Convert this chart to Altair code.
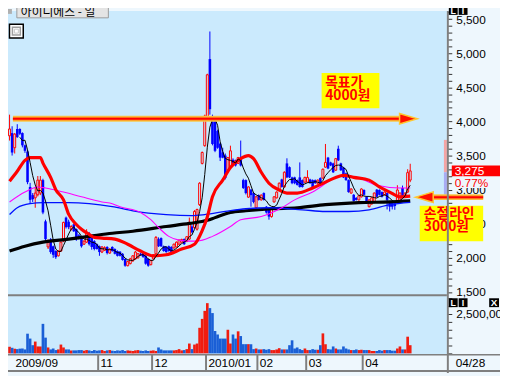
import altair as alt
import pandas as pd

# ---------------- data ----------------
opens = [3790, 3830, 3615, 3890, 3890, 3830, 3650, 3560, 3040, 2920,
         2880, 2925, 2950, 3140, 2535, 2160, 2270, 2170, 2100, 2030,
         2100, 2245, 2590, 2530, 2420, 2490, 2420, 2330, 2300, 2200,
         2230, 2350, 2320, 2245, 2200, 2170, 2085, 2110, 2160, 2070,
         2160, 2130, 2100, 2090, 2060, 1985, 1885, 1915, 1955, 1985,
         2000, 2060, 2085, 2030, 1985, 1900, 1985, 2060, 2275, 2290,
         2170, 2160, 2170, 2160, 2145, 2160, 2200, 2230, 2275, 2240,
         2275, 2460, 2445, 2420, 2780, 3385, 3645, 4050, 4915, 4050,
         4005, 3860, 3675, 3545, 3500, 3285, 3330, 3440, 3430, 3385,
         3470, 3140, 3140, 2890, 3000, 2950, 2735, 2920, 2850, 2950,
         2750, 2705, 2605, 2820, 2880, 2995, 3150, 3040, 3385, 3330,
         3180, 3180, 3140, 3180, 3140, 3110, 3110, 3150, 3140, 3140,
         3095, 3170, 3170, 3330, 3470, 3400, 3385, 3285, 3600, 3385,
         3325, 3240, 3140, 2950, 2925, 2880, 2850, 2895, 2995, 2895,
         2750, 2790, 2810, 3000, 2995, 2965, 2925, 2950, 2820, 2805,
         2800, 2810, 2840, 3025, 2900, 2965, 3140]
highs = [4100, 3930, 3830, 3960, 3900, 3840, 3660, 3580, 3100, 2950,
         3040, 3200, 3200, 3160, 2560, 2270, 2290, 2180, 2110, 2110,
         2240, 2530, 2605, 2560, 2480, 2500, 2430, 2350, 2310, 2260,
         2420, 2380, 2330, 2260, 2210, 2180, 2170, 2170, 2170, 2140,
         2170, 2140, 2110, 2100, 2070, 1990, 1960, 2000, 2040, 2100,
         2070, 2075, 2100, 2040, 1990, 1970, 2055, 2320, 2300, 2300,
         2180, 2170, 2180, 2170, 2210, 2240, 2270, 2280, 2285, 2320,
         2590, 2480, 2700, 2720, 3110, 3560, 4100, 4700, 5320, 4100,
         4030, 3880, 3690, 3615, 3530, 3480, 3645, 3460, 3440, 3480,
         3720, 3160, 3150, 3050, 3010, 2960, 2910, 2930, 2930, 2960,
         2760, 2715, 2745, 2905, 2975, 3105, 3160, 3270, 3460, 3340,
         3190, 3190, 3150, 3400, 3150, 3190, 3285, 3160, 3150, 3150,
         3150, 3180, 3310, 3670, 3480, 3410, 3395, 3465, 3645, 3395,
         3335, 3250, 3150, 3020, 2935, 2890, 2920, 3020, 3005, 2905,
         2860, 2890, 2960, 3010, 3005, 2975, 2975, 2960, 2830, 2815,
         2810, 3065, 2960, 3060, 2960, 3300, 3380]
lows = [3720, 3500, 3530, 3760, 3800, 3620, 3540, 3080, 2800, 2820,
        2735, 2900, 2920, 2640, 2250, 2130, 2060, 2000, 1985, 2020,
        2090, 2230, 2430, 2420, 2400, 2380, 2250, 2270, 2150, 2190,
        2220, 2180, 2120, 2110, 2120, 2030, 2070, 2100, 2050, 2060,
        2090, 2050, 2020, 2020, 1960, 1870, 1875, 1905, 1945, 1975,
        1990, 2030, 2000, 1900, 1870, 1890, 1975, 2050, 2160, 2160,
        2090, 2075, 2090, 2075, 2135, 2150, 2190, 2220, 2190, 2230,
        2260, 2360, 2430, 2400, 2760, 3370, 3630, 4040, 4100, 3650,
        3550, 3600, 3420, 3460, 3150, 3270, 3320, 3370, 3340, 3375,
        3340, 3010, 2930, 2880, 2750, 2800, 2720, 2840, 2840, 2840,
        2650, 2560, 2590, 2810, 2870, 2985, 3030, 3030, 3170, 3170,
        3080, 3080, 3060, 3030, 3030, 3100, 3100, 3085, 3030, 3085,
        3085, 3085, 3160, 3320, 3300, 3345, 3245, 3275, 3420, 3275,
        3170, 3130, 2955, 2940, 2825, 2840, 2840, 2885, 2915, 2800,
        2740, 2780, 2800, 2885, 2915, 2885, 2915, 2710, 2680, 2710,
        2705, 2800, 2830, 2885, 2890, 2950, 3110]
closes = [3890, 3545, 3815, 3770, 3820, 3650, 3570, 3110, 2850, 2860,
          2950, 3140, 3140, 2665, 2275, 2230, 2085, 2045, 2010, 2100,
          2230, 2520, 2450, 2450, 2460, 2390, 2275, 2290, 2170, 2245,
          2375, 2200, 2160, 2130, 2130, 2085, 2160, 2150, 2070, 2130,
          2100, 2060, 2030, 2030, 1970, 1885, 1945, 1985, 2030, 2085,
          2060, 2040, 2015, 1915, 1885, 1960, 2045, 2300, 2170, 2170,
          2100, 2085, 2100, 2085, 2200, 2230, 2260, 2270, 2200, 2310,
          2520, 2375, 2680, 2710, 3095, 3545, 4080, 4685, 4180, 3670,
          3570, 3615, 3470, 3470, 3170, 3470, 3570, 3385, 3355, 3470,
          3355, 3025, 2950, 3040, 2920, 2820, 2895, 2850, 2920, 2850,
          2665, 2605, 2735, 2895, 2965, 3095, 3040, 3255, 3180, 3180,
          3095, 3095, 3070, 3040, 3040, 3180, 3180, 3095, 3040, 3095,
          3140, 3095, 3300, 3400, 3310, 3355, 3255, 3455, 3430, 3285,
          3180, 3140, 2965, 3010, 2835, 2850, 2910, 3010, 2925, 2810,
          2850, 2880, 2950, 2895, 2925, 2895, 2965, 2850, 2750, 2750,
          2760, 2995, 2950, 2895, 2950, 3250, 3275]
# volume in thousands of shares
volumes_k = [420, 355, 300, 270, 300, 310, 250, 1250, 940, 520,
             750, 440, 440, 1875, 1000, 375, 250, 310, 210, 250,
             560, 375, 250, 250, 190, 190, 190, 210, 210,
             170, 210, 190, 150, 210, 170, 190, 210, 150, 190,
             210, 170, 150, 190, 170, 210, 150, 190, 170, 150,
             190, 210, 170, 150, 190, 150, 170, 190,
             150, 375, 250, 190, 190, 190, 190, 190, 210, 270, 190, 210,
             270, 625, 270, 560, 625, 1625, 2190, 2700, 3190, 2875,
             2560, 1420, 1200, 940, 940, 940, 1500, 625, 1200, 940,
             1400, 1100, 585, 585, 585,
             580, 270, 310, 250, 250, 270, 230, 270, 210, 210,
             250, 330, 250, 250, 250, 520, 830, 310, 375, 270,
             210, 310, 210, 210, 270, 230, 230, 520, 1270, 580,
             270, 250, 440, 310, 250, 250, 440, 310, 250, 210,
             210, 250, 210, 230, 210, 210, 210, 150, 150, 150,
             210, 170, 210, 210, 210, 170, 170, 310, 440, 250,
             250, 1060, 520]

ma20_i = [0, 3, 6, 8, 12, 13, 16, 18, 21, 23, 26, 28, 31, 33, 36, 41, 46, 51, 56, 61,
          67, 72, 75, 77, 79, 83, 86, 90, 93, 95, 98, 101, 105, 108, 112, 118, 123, 127,
          130, 134, 140, 144, 148, 152, 156]
ma20_v = [3125, 3270, 3430, 3470, 3470, 3390, 3180, 3000, 2850, 2640, 2490, 2420, 2345,
          2300, 2290, 2275, 2200, 2100, 2030, 2045, 2130, 2200, 2400, 2600, 2895, 3140,
          3325, 3455, 3500, 3455, 3255, 3095, 2995, 2950, 2950, 3025, 3110, 3180, 3210,
          3180, 3140, 3040, 2965, 2895, 2905]
ma60_i = [0, 6, 11, 14, 21, 28, 36, 40, 43, 51, 55, 58, 62, 66, 70, 73, 79, 86, 90, 98,
          106, 111, 118, 127, 130, 136, 143, 152, 156]
ma60_v = [2820, 2965, 3040, 3025, 2965, 2895, 2820, 2795, 2750, 2665, 2560, 2445, 2315,
          2260, 2245, 2245, 2315, 2460, 2560, 2605, 2735, 2850, 2965, 3180, 3210, 3170,
          3065, 3025, 3025]
ma120_i = [0, 3, 8, 13, 23, 31, 40, 48, 61, 71, 76, 84, 92, 101, 114, 123, 132, 140, 148, 156]
ma120_v = [2635, 2735, 2795, 2810, 2810, 2795, 2750, 2690, 2635, 2620, 2635, 2680, 2720,
           2735, 2705, 2680, 2680, 2705, 2780, 2815]
ma240_i = [0, 6, 13, 23, 31, 40, 48, 61, 70, 77, 80, 86, 92, 102, 112, 123, 136, 148, 156]
ma240_v = [2100, 2170, 2230, 2275, 2315, 2360, 2390, 2460, 2505, 2550, 2590, 2665, 2690,
           2720, 2735, 2780, 2810, 2820, 2835]

month_pos = [1.311, 34.5, 55.5, 76.5, 96.5, 115.5, 137.5]
month_lab = ["2009/09", "11", "12", "2010/01", "02", "03", "04"]
price_ticks = list(range(1500, 5700, 100))
vol_ticks = [0, 500, 1000, 1500, 2000, 2500, 3000, 3500]

target_price = 4040
target_from, target_to, target_head = 1.311, 153.2, 155.3
stop_price = 2890
stop_from, stop_to, stop_head = 163.6, 184.4, 161.5
box_x0 = [121.5, 159.7]
box_x1 = [144.0, 184.4]
box_p0 = [4712, 2764]
box_p1 = [4193, 2245]
note_text = ["목표가", "4000원", "손절라인", "3000원"]
note_i = [122.9, 122.9, 161.3, 161.3]
note_p = [4568, 4380, 2649, 2454]
last_label = "3,275"
last_price = 3275
pct_label = "0.77%"
pct_price = 3103
range_hi = [3730, 3255]
range_lo = [3255, 2860]
range_kind = ["up", "down"]

# ---------------- styling ----------------
PLOT_BG = "#cbeafd"
AXIS_BG = "#eef7fd"
RED = "#ff0000"
BLUE = "#0000ff"
VRED = "#f01c10"
VBLUE = "#1a5fd6"
GRAY = "#7f7f7f"
NUM_FONT = "Liberation Sans"
KR_FONT = "Noto Sans CJK KR"
HEAD_R = "M -1 -0.6 L 1 0 L -1 0.6 Z"
HEAD_L = "M 1 -0.6 L -1 0 L 1 0.6 Z"

candles = pd.DataFrame({"i": list(range(len(closes))), "open": opens, "high": highs,
                        "low": lows, "close": closes, "vol": volumes_k})

x_scale = alt.Scale(domain=[1.311, 168.352], nice=False, zero=False)
p_scale = alt.Scale(domain=[1465, 5621], range=[288, 0], nice=False, zero=False)
v_scale = alt.Scale(domain=[0, 3625], range=[348, 290], nice=False, zero=False)

label_expr = ("[" + ",".join("'%s'" % m for m in month_lab) + "][indexof(["
              + ",".join(str(v) for v in month_pos) + "], datum.value)]")
x_axis = alt.Axis(values=month_pos, labelExpr=label_expr, orient="bottom", ticks=False,
                  domain=False, grid=False, labelAlign="left", labelBaseline="middle",
                  labelOffset=2, labelPadding=8, labelFont=NUM_FONT, labelFontSize=12,
                  labelColor="#000000", labelOverlap=False, labelBound=False,
                  labelFlush=False, title=None)
p_axis = alt.Axis(orient="right", values=price_ticks,
                  labelExpr="datum.value % 500 == 0 ? format(datum.value, ',') : ''",
                  tickSize=5, tickColor="#333333", tickWidth=1, domain=False, grid=False,
                  labelAlign="left", labelBaseline="middle", labelPadding=4,
                  labelFont=NUM_FONT, labelFontSize=12, labelColor="#000000",
                  labelOverlap=False, labelFlush=False, labelBound=False, title=None)
v_axis = alt.Axis(orient="right", values=vol_ticks,
                  labelExpr="datum.value == 2500 ? '2,500,000' : ''",
                  tickSize=5, tickColor="#333333", tickWidth=1, domain=False, grid=False,
                  labelAlign="left", labelBaseline="middle", labelPadding=4,
                  labelFont=NUM_FONT, labelFontSize=12, labelColor="#000000",
                  labelOverlap=False, labelFlush=False, labelBound=False, title=None)


def X(field):
    return alt.X(field, type="quantitative", scale=x_scale, axis=x_axis)


def PY(field):
    return alt.Y(field, type="quantitative", scale=p_scale, axis=p_axis)


def VY(field):
    return alt.Y(field, type="quantitative", scale=v_scale, axis=v_axis)


one = pd.DataFrame({"k": [0]})
base = alt.Chart(candles).transform_calculate(up="datum.close >= datum.open", v0="0")

# ---------------- price panel ----------------
wick_up = base.transform_filter("datum.up").mark_rule(color=RED, strokeWidth=1).encode(
    x=X("i"), y=PY("low"), y2="high:Q")
wick_dn = base.transform_filter("!datum.up").mark_rule(color=BLUE, strokeWidth=1).encode(
    x=X("i"), y=PY("low"), y2="high:Q")
body_dn = base.transform_filter("!datum.up").mark_bar(size=2.6, color=BLUE).encode(
    x=X("i"), y=PY("open"), y2="close:Q")
body_up = base.transform_filter("datum.up").mark_bar(
    size=2.0, fill=PLOT_BG, stroke=RED, strokeWidth=1).encode(
    x=X("i"), y=PY("open"), y2="close:Q")


def ma_line(idx, vals, color, width):
    return alt.Chart(pd.DataFrame({"i": idx, "v": vals})).mark_line(
        color=color, strokeWidth=width, interpolate="monotone").encode(x=X("i"), y=PY("v"))


ma240 = ma_line(ma240_i, ma240_v, "#000000", 3.2)
ma120 = ma_line(ma120_i, ma120_v, "#0010ff", 1.3)
ma60 = ma_line(ma60_i, ma60_v, "#ff00ff", 1.1)
ma20 = ma_line(ma20_i, ma20_v, "#ff0000", 3.2)
ma5 = alt.Chart(candles).transform_window(
    ma5="mean(close)", frame=[-4, 0], sort=[alt.SortField("i", order="ascending")]
).transform_filter("datum.i >= 4").mark_line(color="#000000", strokeWidth=1).encode(
    x=X("i"), y=PY("ma5"))

rng = alt.Chart(pd.DataFrame({"p0": range_hi, "p1": range_lo, "k": range_kind})).mark_rule(
    strokeWidth=3).encode(
    x=alt.value(444.5), y=PY("p0"), y2="p1:Q",
    color=alt.Color("k:N", scale=alt.Scale(domain=["up", "down"], range=["#f4a4a4", "#a8acf4"]),
                    legend=None))

arrows = pd.DataFrame({"x0": [target_from, stop_from], "x1": [target_to, stop_to],
                       "p": [target_price, stop_price]})
heads = pd.DataFrame({"x": [target_head, stop_head], "p": [target_price, stop_price],
                      "s": ["right", "left"]})
arr_outer = alt.Chart(arrows).mark_rule(color="#f7c94a", strokeWidth=6).encode(
    x=X("x0"), x2="x1:Q", y=PY("p"))
arr_mid = alt.Chart(arrows).mark_rule(color="#ff9622", strokeWidth=4).encode(
    x=X("x0"), x2="x1:Q", y=PY("p"))
arr_core = alt.Chart(arrows).mark_rule(color="#ff0000", strokeWidth=2).encode(
    x=X("x0"), x2="x1:Q", y=PY("p"))
arr_head = alt.Chart(heads).mark_point(filled=True, size=324, fill="#ff1000",
                                       stroke="#ffc830", strokeWidth=1.5, opacity=1).encode(
    x=X("x"), y=PY("p"),
    shape=alt.Shape("s:N", scale=alt.Scale(domain=["right", "left"], range=[HEAD_R, HEAD_L]),
                    legend=None))

boxes = alt.Chart(pd.DataFrame({"x0": box_x0, "x1": box_x1, "p0": box_p0, "p1": box_p1})
                  ).mark_rect(color="#ffff00").encode(x=X("x0"), x2="x1:Q", y=PY("p0"), y2="p1:Q")
notes = alt.Chart(pd.DataFrame({"t": note_text, "i": note_i, "p": note_p})).mark_text(
    align="left", baseline="middle", font=KR_FONT, fontSize=14, fontWeight="bold",
    color="#ff0000").encode(x=X("i"), y=PY("p"), text="t:N")

last_df = pd.DataFrame({"p": [last_price], "t": [last_label]})
pct_df = pd.DataFrame({"p": [pct_price], "t": [pct_label]})
last_box = alt.Chart(last_df).mark_rule(color="#ff0000", strokeWidth=11).encode(
    x=alt.value(451), x2=alt.value(500), y=PY("p"))
last_txt = alt.Chart(last_df).mark_text(align="left", baseline="middle", font=NUM_FONT,
                                        fontSize=12, color="#ffffff").encode(
    x=alt.value(454), y=PY("p"), text="t:N")
pct_box = alt.Chart(pct_df).mark_rule(color=AXIS_BG, strokeWidth=11).encode(
    x=alt.value(451), x2=alt.value(500), y=PY("p"))
pct_txt = alt.Chart(pct_df).mark_text(align="left", baseline="middle", font=NUM_FONT,
                                      fontSize=12, color="#ff0000").encode(
    x=alt.value(454), y=PY("p"), text="t:N")

price = alt.layer(wick_up, wick_dn, body_dn, body_up, ma240, ma120, ma60, ma20, ma5, rng,
                  last_box, last_txt, pct_box, pct_txt,
                  boxes, notes, arr_outer, arr_mid, arr_core, arr_head)

# ---------------- volume panel ----------------
vol_up = base.transform_filter("datum.up").mark_bar(size=2.7, color=VRED).encode(
    x=X("i"), y=VY("vol"), y2="v0:Q")
vol_dn = base.transform_filter("!datum.up").mark_bar(size=2.7, color=VBLUE).encode(
    x=X("i"), y=VY("vol"), y2="v0:Q")
volume = alt.layer(vol_up, vol_dn)


# ---------------- frame / chrome ----------------
def hrule(x0, x1, y, color=GRAY, w=2):
    return alt.Chart(one).mark_rule(color=color, strokeWidth=w).encode(
        x=alt.value(x0), x2=alt.value(x1), y=alt.value(y))


def vrule(x, y0, y1, color=GRAY, w=2):
    return alt.Chart(one).mark_rule(color=color, strokeWidth=w).encode(
        x=alt.value(x), y=alt.value(y0), y2=alt.value(y1))


def box(x0, x1, y0, y1, fill, stroke=None, sw=1):
    kw = dict(fill=fill)
    if stroke:
        kw.update(stroke=stroke, strokeWidth=sw)
    return alt.Chart(one).mark_rect(**kw).encode(
        x=alt.value(x0), x2=alt.value(x1), y=alt.value(y0), y2=alt.value(y1))


def label(x, y, t, color="#000000", size=12, font=NUM_FONT, weight="normal", align="left"):
    return alt.Chart(one).mark_text(align=align, baseline="middle", font=font, fontSize=size,
                                    fontWeight=weight, color=color).encode(
        x=alt.value(x), y=alt.value(y), text=alt.value(t))


seps = alt.Chart(pd.DataFrame({"m": month_pos[1:]})).mark_rule(color=GRAY, strokeWidth=2).encode(
    x=X("m"), y=alt.value(349), y2=alt.value(366))

chrome = [
    hrule(0, 446, 289),
    hrule(0, 500, 349.5, w=1.5),
    hrule(0, 500, 366, w=2),
    vrule(447, 0, 368),
    seps,
    label(470, 357.5, "04/28", align="center"),
    # title box
    box(9, 102, -5, 7, "#e4e4e4", "#9a9a9a", 1),
    label(13, 1, "아이디에스 - 일", size=12, font=KR_FONT),
    box(-2, 4, -2, 3, "#b0b0b0"),
    # icon square
    box(1.5, 15.5, 13.5, 27.5, "#ffffff", "#000000", 1.5),
    box(4.5, 12.5, 16.5, 24.5, "#ffffff", "#a0a0a0", 1.5),
    box(6.5, 10.5, 18.5, 22.5, "#ffffff", "#c8c8c8", 1),
    # panel icons
    box(448, 457, -5, 4, "#000000"),
    box(458, 467, -5, 4, "#000000"),
    label(452.5, 0, "L", color="#ffffff", size=9, weight="bold", align="center"),
    label(462.5, 0, "I", color="#ffffff", size=9, weight="bold", align="center"),
    box(448, 457, 292, 301, "#000000"),
    box(458, 467, 292, 301, "#000000"),
    box(489, 499, 292, 301, "#000000"),
    label(452.5, 296.5, "L", color="#ffffff", size=9, weight="bold", align="center"),
    label(462.5, 296.5, "I", color="#ffffff", size=9, weight="bold", align="center"),
    label(494, 296.5, "X", color="#ffffff", size=10, weight="bold", align="center"),
]

chart = alt.layer(price, volume, *chrome).resolve_scale(y="independent").properties(
    width=446, height=349,
    padding={"left": 0, "top": 0, "right": 54, "bottom": 19},
    autosize=alt.AutoSizeParams(type="none"),
    background=AXIS_BG,
).configure_view(fill=PLOT_BG, stroke=None)

chart.save("out.html", embed_options={"renderer": "svg", "actions": False})
